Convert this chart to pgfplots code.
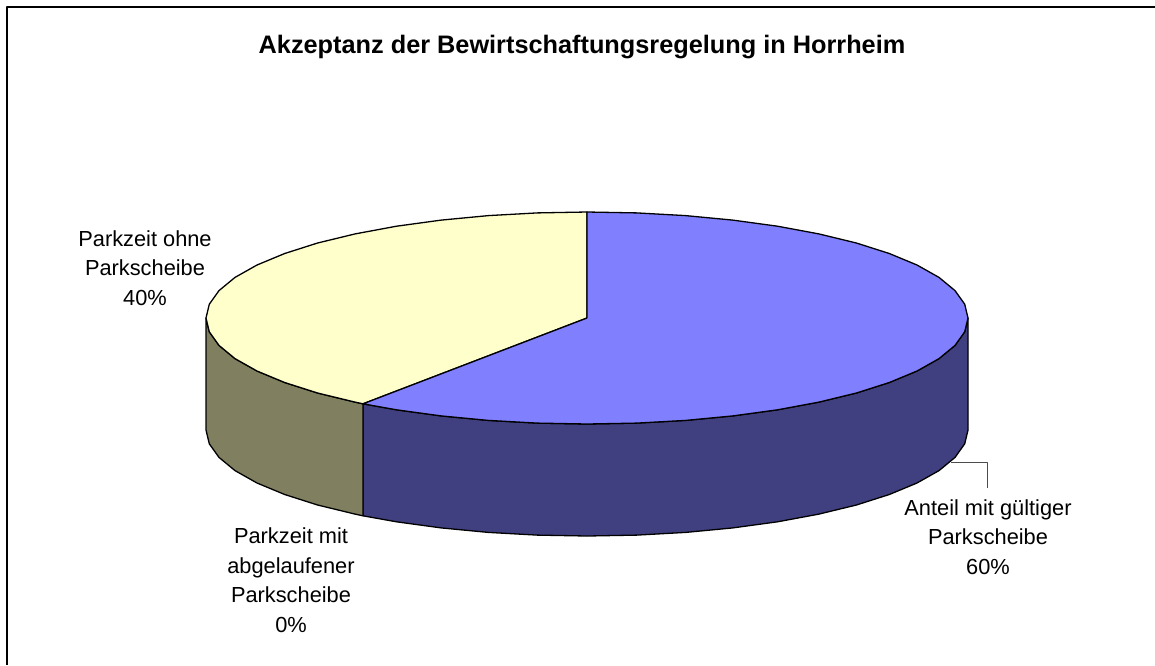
\documentclass[border=0pt]{standalone}
\usepackage{pgfplots}
\pgfplotsset{compat=1.18}
\usepackage{fontspec}
\setmainfont{Liberation Sans}
\definecolor{pblue}{RGB}{128,128,255}
\definecolor{pyellow}{RGB}{255,255,204}
\definecolor{pdblue}{RGB}{64,64,128}
\definecolor{polive}{RGB}{128,128,96}
\begin{document}
\begin{tikzpicture}[x=1pt,y=1pt]
\useasboundingbox (0,0) rectangle (1155pt,665pt);
\begin{axis}[
  at={(0,0)}, anchor=south west,
  width=1155pt, height=665pt, scale only axis,
  xmin=0, xmax=1155, ymin=0, ymax=665, y dir=reverse,
  axis lines=none, clip=false,
  every axis plot/.append style={line width=1.3pt, line join=round}
]
% outer frame
\addplot[draw=black, line width=2pt, forget plot] coordinates {(6.5,665)(6.5,6.5)(1155,6.5)};
% blue wall, t = 90..216
\addplot[fill=pdblue, draw=black] coordinates {
(968,318)(964.7,331.8)(955,345.4)(939,358.6)(917,371)(889.3,382.5)(856.4,393)(818.9,402.1)(777.5,409.8)(732.8,415.9)(685.6,420.4)(636.7,423.1)(587,424)(537.3,423.1)(488.4,420.4)(441.2,415.9)(396.5,409.8)(363,403.8)
(363,515.8)(396.5,521.8)(441.2,527.9)(488.4,532.4)(537.3,535.1)(587,536)(636.7,535.1)(685.6,532.4)(732.8,527.9)(777.5,521.8)(818.9,514.1)(856.4,505)(889.3,494.5)(917,483)(939,470.6)(955,457.4)(964.7,443.8)(968,430)(968,318)};
% olive wall, t = 216..270
\addplot[fill=polive, draw=black] coordinates {
(363,403.8)(355.1,402.1)(317.6,393)(284.7,382.5)(257,371)(235,358.6)(219,345.4)(209.3,331.8)(206,318)
(206,430)(209.3,443.8)(219,457.4)(235,470.6)(257,483)(284.7,494.5)(317.6,505)(355.1,514.1)(363,515.8)(363,403.8)};
% top: yellow slice
\addplot[fill=pyellow, draw=black] coordinates {
(587,318)(363,403.8)(355.1,402.1)(317.6,393)(284.7,382.5)(257,371)(235,358.6)(219,345.4)(209.3,331.8)(206,318)(209.3,304.2)(219,290.6)(235,277.4)(257,265)(284.7,253.5)(317.6,243)(355.1,233.9)(396.5,226.2)(441.2,220.1)(488.4,215.6)(537.3,212.9)(587,212)(587,318)};
% top: blue slice
\addplot[fill=pblue, draw=black] coordinates {
(587,318)(587,212)(636.7,212.9)(685.6,215.6)(732.8,220.1)(777.5,226.2)(818.9,233.9)(856.4,243)(889.3,253.5)(917,265)(939,277.4)(955,290.6)(964.7,304.2)(968,318)(964.7,331.8)(955,345.4)(939,358.6)(917,371)(889.3,382.5)(856.4,393)(818.9,402.1)(777.5,409.8)(732.8,415.9)(685.6,420.4)(636.7,423.1)(587,424)(537.3,423.1)(488.4,420.4)(441.2,415.9)(396.5,409.8)(363,403.8)(587,318)};
% leader line
\addplot[draw=black!70, line width=1pt] coordinates {(951,462.5)(987,462.5)(987,488)};
\node[font=\fontsize{25.3}{30}\selectfont\bfseries] at (axis cs:582,47.5) {Akzeptanz der Bewirtschaftungsregelung in Horrheim};
\node[align=center, font=\fontsize{21.8}{29.5}\selectfont] at (axis cs:145,268) {Parkzeit ohne\\Parkscheibe\\40\%};
\node[align=center, font=\fontsize{21.8}{29.5}\selectfont] at (axis cs:291,580) {Parkzeit mit\\abgelaufener\\Parkscheibe\\0\%};
\node[align=center, font=\fontsize{21.8}{29.5}\selectfont] at (axis cs:988,537) {Anteil mit gültiger\\Parkscheibe\\60\%};
\end{axis}
\end{tikzpicture}
\end{document}
